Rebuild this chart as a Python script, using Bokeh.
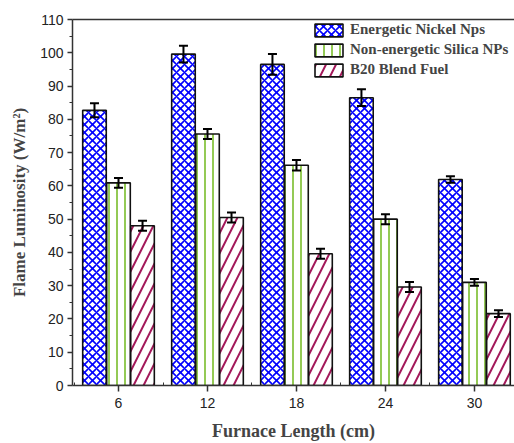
from bokeh.plotting import figure
from bokeh.models import ColumnDataSource, Whisker, TeeHead, FixedTicker, Legend, LegendItem, Range1d, LinearAxis
from bokeh.embed import file_html
from bokeh.resources import INLINE

categories = ["6", "12", "18", "24", "30"]
nickel = [82.7, 99.6, 96.5, 86.5, 61.9]
nickel_err = [2.1, 2.5, 3.1, 2.5, 1.0]
silica = [60.9, 75.6, 66.2, 50.0, 31.0]
silica_err = [1.5, 1.5, 1.6, 1.5, 1.0]
b20 = [48.0, 50.5, 39.6, 29.6, 21.6]
b20_err = [1.5, 1.5, 1.5, 1.5, 1.0]
series_names = ["Energetic Nickel Nps", "Non-energetic Silica NPs", "B20 Blend Fuel"]
y_ticks = list(range(0, 111, 10))

pos = list(range(len(categories)))
offsets = [-0.27, 0.0, 0.27]
bw = 0.265

p = figure(width=514, height=443, output_backend="svg", toolbar_location=None,
           x_range=Range1d(-0.517, 4.45), y_range=Range1d(0, 110))
p.min_border_left = 72
p.min_border_right = 0
p.min_border_top = 19
p.min_border_bottom = 56
p.outline_line_color = None
p.xgrid.grid_line_color = None
p.ygrid.grid_line_color = None
p.background_fill_color = "white"

styles = [
    dict(hatch_pattern="x", hatch_color="#0000ff", hatch_scale=8, hatch_weight=1.6),
    dict(hatch_pattern="|", hatch_color="#79bd2a", hatch_scale=8, hatch_weight=1.6),
    dict(hatch_pattern="/", hatch_color="#a3195b", hatch_scale=20, hatch_weight=2),
]
data = [(nickel, nickel_err), (silica, silica_err), (b20, b20_err)]
items = []
for i, ((vals, errs), st) in enumerate(zip(data, styles)):
    xs = [x + offsets[i] for x in pos]
    src = ColumnDataSource(dict(x=xs, top=vals,
                                upper=[v + e for v, e in zip(vals, errs)],
                                lower=[v - e for v, e in zip(vals, errs)]))
    r = p.vbar(x="x", top="top", bottom=0, width=bw, source=src,
               fill_color="white", line_color="#111111", line_width=1.6, **st)
    items.append(LegendItem(label=series_names[i], renderers=[r]))
    w = Whisker(base="x", upper="upper", lower="lower", source=src, level="overlay",
                line_color="black", line_width=2,
                upper_head=TeeHead(size=9, line_width=2, line_color="black"),
                lower_head=TeeHead(size=9, line_width=2, line_color="black"))
    p.add_layout(w)

legend = Legend(items=items, location=(239, 307), padding=1, spacing=3,
                glyph_width=35, glyph_height=16, label_height=16, label_standoff=4,
                label_text_font="Liberation Serif", label_text_font_style="bold",
                label_text_font_size="15px", border_line_color=None,
                background_fill_alpha=0, margin=0)
p.add_layout(legend)

# x axis
xa = p.xaxis[0]
xa.ticker = FixedTicker(ticks=pos, minor_ticks=[x + 0.5 for x in pos[:-1]] + [-0.5])
xa.major_label_overrides = {x: c for x, c in zip(pos, categories)}
xa.axis_label = "Furnace Length (cm)"
xa.axis_label_text_font = "Liberation Serif"
xa.axis_label_text_font_style = "bold"
xa.axis_label_text_font_size = "18px"
xa.axis_label_standoff = 10
xa.major_label_text_font = "Liberation Sans"
xa.major_label_text_font_size = "14px"
xa.major_label_text_color = "#222222"
xa.major_label_standoff = 6
xa.axis_line_color = "#333333"
xa.axis_line_width = 1.5
xa.major_tick_out = 6
xa.major_tick_in = 0
xa.minor_tick_out = 0
xa.minor_tick_in = 3
xa.major_tick_line_color = "#333333"
xa.minor_tick_line_color = "#333333"
xa.major_tick_line_width = 1.5

ya = p.yaxis[0]
ya.ticker = FixedTicker(ticks=y_ticks, minor_ticks=[t + 5 for t in y_ticks[:-1]])
ya.axis_label = "Flame Luminosity (W/m²)"
ya.axis_label_text_font = "Liberation Serif"
ya.axis_label_text_font_style = "bold"
ya.axis_label_text_font_size = "17px"
ya.axis_label_standoff = 8
ya.major_label_text_font = "Liberation Sans"
ya.major_label_text_font_size = "14px"
ya.major_label_text_color = "#222222"
ya.major_label_standoff = 4
ya.axis_line_color = "#333333"
ya.axis_line_width = 1.5
ya.major_tick_out = 5
ya.major_tick_in = 0
ya.minor_tick_out = 3
ya.minor_tick_in = 0
ya.major_tick_line_color = "#333333"
ya.minor_tick_line_color = "#333333"
ya.major_tick_line_width = 1.5

top_axis = LinearAxis(ticker=FixedTicker(ticks=[]), major_label_text_font_size="0px",
                      axis_line_color="#333333", axis_line_width=1.5,
                      major_tick_line_color=None, minor_tick_line_color=None)
p.add_layout(top_axis, "above")

open("out.html", "w").write(file_html(p, INLINE))
